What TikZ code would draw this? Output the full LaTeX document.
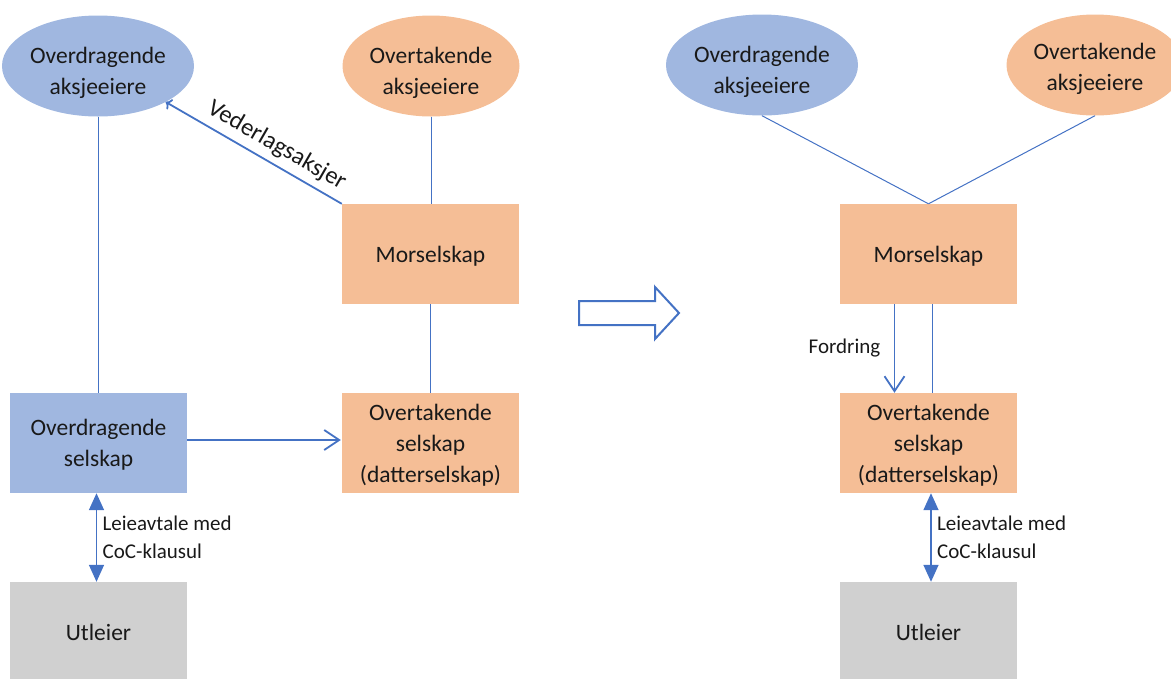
\documentclass[tikz,border=0pt]{standalone}
\usepackage{fontspec}
\setmainfont{Carlito}
\usetikzlibrary{shapes.geometric,arrows.meta,calc}
\definecolor{lineblue}{HTML}{4472C4}
\definecolor{fillblue}{HTML}{A0B7E0}
\definecolor{fillorange}{HTML}{F5BE96}
\definecolor{fillgray}{HTML}{D0D0D0}
% two centred lines, set a little below the middle of their shape
\newcommand{\lowtext}[2]{\raisebox{#1}[\height][\depth]{\begin{tabular}{@{}c@{}}#2\end{tabular}}}
\begin{document}
\begin{tikzpicture}[x=1pt,y=-1pt,
  txt/.style={font=\fontsize{23.5}{31}\selectfont, align=center, text=black!90},
  lbl/.style={font=\fontsize{21}{28}\selectfont, align=left, text=black!90},
  party/.style={ellipse, txt, minimum width=177pt, minimum height=101pt, inner sep=0pt},
  unitbox/.style={rectangle, txt, minimum width=177pt, minimum height=100pt, inner sep=0pt},
  conn/.style={draw=lineblue, line width=1pt},
  openarrow/.style={draw=lineblue, line width=1.8pt, -{Straight Barb[length=15pt,width=20pt]}},
  dblarrow/.style={draw=lineblue, line width=1.6pt,
    {Triangle[length=17pt,width=15pt]}-{Triangle[length=17pt,width=15pt]}}
]
\useasboundingbox (0,0) rectangle (1171,678);

% ---- before the merger ----
\node[party, fill=fillblue]   (oaL)  at (98,66)    {\lowtext{-7pt}{Overdragende\\aksjeeiere}};
\node[party, fill=fillorange] (otL)  at (431,66)   {\lowtext{-7pt}{Overtakende\\aksjeeiere}};
\node[unitbox, fill=fillorange] (morL) at (430.5,254) {\lowtext{-2pt}{Morselskap}};
\node[unitbox, fill=fillorange] (otsL) at (430.5,443) {\lowtext{-2pt}{Overtakende\\selskap\\(datterselskap)}};
\node[unitbox, fill=fillblue]   (osL)  at (98.5,443)  {\lowtext{-2pt}{Overdragende\\selskap}};
\node[unitbox, fill=fillgray]   (utL)  at (98.5,632)  {Utleier};

\draw[conn] (oaL.south) -- (oaL.south |- osL.north);
\draw[conn] (otL.south) -- (otL.south |- morL.north);
\draw[conn] (morL.south) -- (otsL.north);

\draw[openarrow, <-] (oaL.-28) -- (morL.north west)
  node[pos=0.58, sloped, above=3pt, font=\fontsize{24.5}{28}\selectfont, text=black!90] {Vederlagsaksjer};

\draw[openarrow, shorten >=1pt] ([yshift=3pt]osL.east) -- ([yshift=3pt]otsL.west);

\draw[dblarrow] ([xshift=-2pt]osL.south) -- ([xshift=-2pt]utL.north)
  node[midway, right=2pt, lbl] {Leieavtale med\\CoC-klausul};

% ---- transition arrow ----
\draw[lineblue, line width=2pt, fill=white, line join=miter]
  (579,301) -- (655,301) -- (655,287) -- (679,313) -- (655,339) -- (655,325) -- (579,325) -- cycle;

% ---- after the merger ----
\node[party, fill=fillblue]   (oaR)  at (762,65)   {\lowtext{-7pt}{Overdragende\\aksjeeiere}};
\node[party, fill=fillorange] (otR)  at (1095,65)  {\lowtext{-4pt}{Overtakende\\aksjeeiere}};
\node[unitbox, fill=fillorange] (morR) at (928.5,254) {\lowtext{-2pt}{Morselskap}};
\node[unitbox, fill=fillorange] (otsR) at (928.5,443) {\lowtext{-2pt}{Overtakende\\selskap\\(datterselskap)}};
\node[unitbox, fill=fillgray]   (utR)  at (928.5,632) {Utleier};

\draw[conn] (oaR.south) -- (morR.north);
\draw[conn] (otR.south) -- (morR.north);

\draw[openarrow] ([xshift=-34pt]morR.south) -- ([xshift=-34pt]otsR.north)
  node[midway, left=10pt, lbl] {Fordring};
\draw[conn] ([xshift=3.5pt]morR.south) -- ([xshift=3.5pt]otsR.north);

\draw[dblarrow] ([xshift=2.5pt]otsR.south) -- ([xshift=2.5pt]utR.north)
  node[midway, right=2pt, lbl] {Leieavtale med\\CoC-klausul};
\end{tikzpicture}
\end{document}
